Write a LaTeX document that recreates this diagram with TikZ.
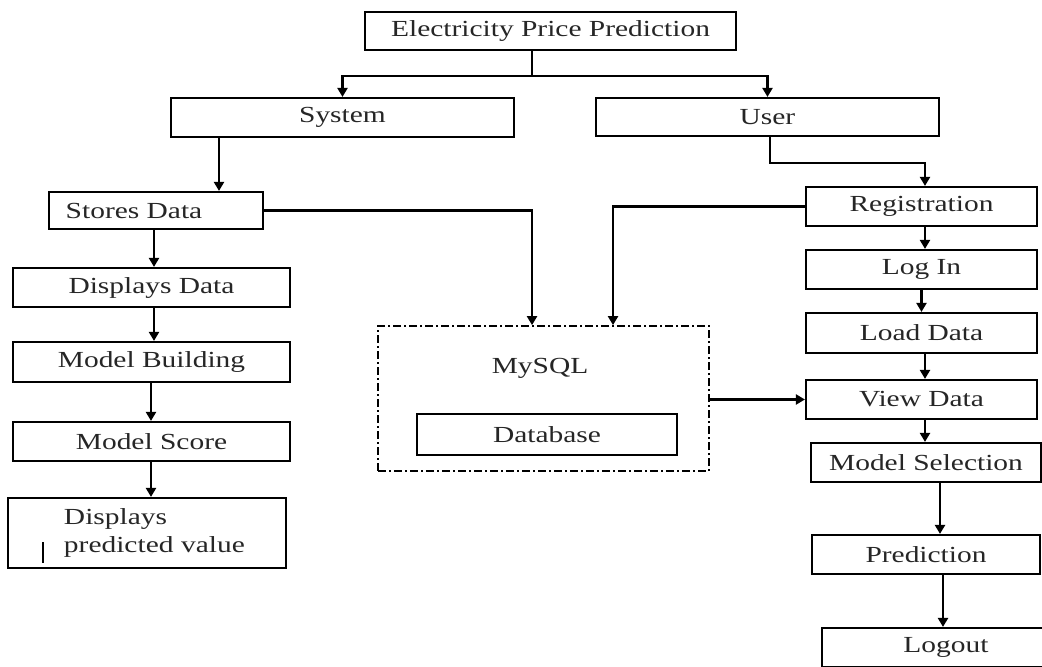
\documentclass[tikz,border=0pt]{standalone}
\usepackage{fontspec}
\setmainfont{Liberation Serif}[FakeStretch=1.28]
\usetikzlibrary{arrows.meta}
\begin{document}
\begin{tikzpicture}[x=0.5pt,y=-0.5pt,
  box/.style={draw, line width=1.1pt, inner sep=0pt, align=center, text=black!85,
    font=\fontsize{11.5}{14}\selectfont},
  arr/.style={line width=1.1pt, -{Triangle[length=4.5pt,width=5pt]}},
  conn/.style={line width=1.1pt},
  dashbox/.style={draw, line width=0.9pt, dash pattern=on 4pt off 1.5pt on 1pt off 1.5pt}]
\clip (0,0) rectangle (1042,666);
\fill[white] (0,0) rectangle (1042,666);
% boxes
\node[box, minimum width=185.5pt, minimum height=19pt] (top) at (550.5,31) {Electricity Price Prediction};
\node[box, minimum width=171.5pt, minimum height=19.5pt] (sys) at (342.5,117.5) {System};
\node[box, minimum width=171.5pt, minimum height=19pt] (usr) at (767.5,117) {User};
\node[box, minimum width=107pt, minimum height=18.5pt] (sto) at (156,210.5) {Stores Data\hspace*{22pt}};
\node[box, minimum width=138.5pt, minimum height=19.5pt] (dd) at (151.5,287.5) {Displays Data};
\node[box, minimum width=138.5pt, minimum height=20pt] (mb) at (151.5,362) {Model Building};
\node[box, minimum width=138.5pt, minimum height=19.5pt] (ms) at (151.5,441.5) {Model Score};
\node[box, minimum width=139pt, minimum height=35pt, text width=139pt, align=left] (dpv) at (147,533)
  {\leftskip=28pt Displays\\predicted value\par};
\node[dashbox, minimum width=165.5pt, minimum height=72.5pt] (db) at (543.5,398.5) {};
\node[text=black!85, font=\fontsize{11.5}{14}\selectfont] (mysql) at (540,368) {MySQL};
\node[box, minimum width=130pt, minimum height=20.5pt] (dbi) at (547,434.5) {Database};
\node[box, minimum width=115.5pt, minimum height=19.5pt] (reg) at (921.5,206.5) {Registration};
\node[box, minimum width=115.5pt, minimum height=19.5pt] (login) at (921.5,269.5) {Log In};
\node[box, minimum width=115.5pt, minimum height=20pt] (load) at (921.5,333) {Load Data};
\node[box, minimum width=115.5pt, minimum height=19.5pt] (view) at (921.5,399.5) {View Data};
\node[box, minimum width=115pt, minimum height=19.5pt] (msel) at (926,462.5) {Model Selection};
\node[box, minimum width=114pt, minimum height=19.5pt] (pred) at (926,554.5) {Prediction};
\node[box, minimum width=124pt, minimum height=19.5pt] (logout) at (946,647.5) {Logout};
% small bar inside the last left box
\draw[line width=1.1pt] (43,542) -- (43,563);
% helper coordinates
\coordinate (j) at (532,76);
\coordinate (xa) at (219,0);
\coordinate (xb) at (532,0);
\coordinate (xc) at (613,0);
\coordinate (xu) at (770,163);
\coordinate (xr) at (925,0);
\coordinate (xl) at (154,0);
\coordinate (xm) at (151,0);
\coordinate (xp) at (940,0);
\coordinate (xq) at (943,0);
% connectors
\draw[conn] (top.south -| j) -- (j);
\draw[arr] (j) -| (sys.north);
\draw[arr] (j) -| (usr.north);
\draw[arr] (sys.south -| xa) -- (sto.north -| xa);
\draw[arr] (sto.east) -| (db.north -| xb);
\draw[arr] (reg.west) -| (db.north -| xc);
\draw[arr] (usr.south -| xu) -- (xu) -| (reg.north -| xr);
\draw[arr] (sto.south -| xl) -- (dd.north -| xl);
\draw[arr] (dd.south -| xl) -- (mb.north -| xl);
\draw[arr] (mb.south -| xm) -- (ms.north -| xm);
\draw[arr] (ms.south -| xm) -- (dpv.north -| xm);
\draw[arr] (reg.south -| xr) -- (login.north -| xr);
\draw[arr] (login.south) -- (load.north);
\draw[arr] (load.south -| xr) -- (view.north -| xr);
\draw[arr] (view.south -| xr) -- (msel.north -| xr);
\draw[arr] (msel.south -| xp) -- (pred.north -| xp);
\draw[arr] (pred.south -| xq) -- (logout.north -| xq);
\draw[arr] (db.east |- view.west) -- (view.west);
\end{tikzpicture}
\end{document}
